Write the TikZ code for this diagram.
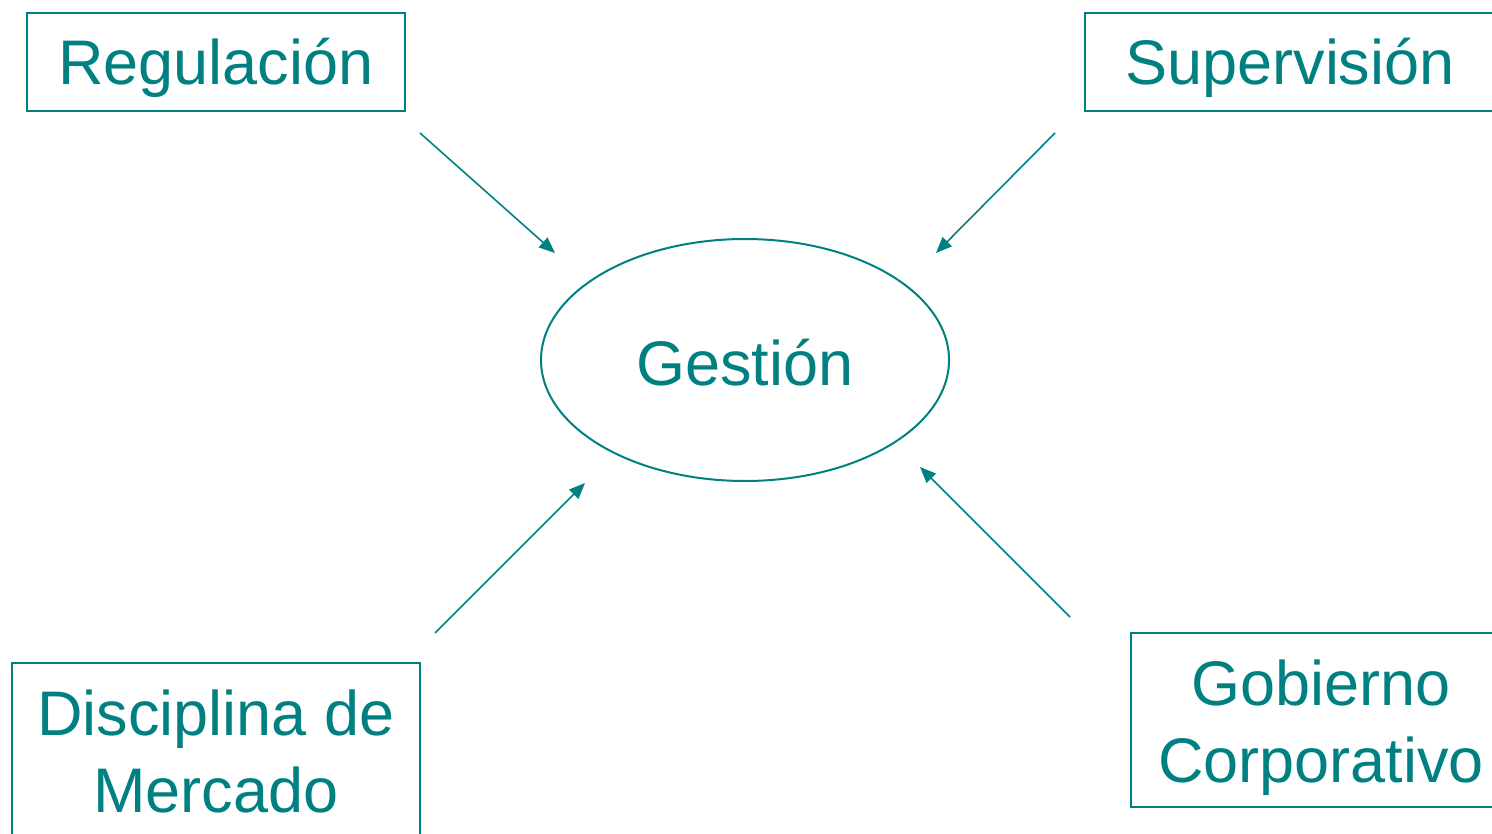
\documentclass[tikz,border=0pt]{standalone}
\usepackage{fontspec}
\setmainfont{Liberation Sans}
\usetikzlibrary{arrows.meta,shapes.geometric}
\definecolor{teal1}{HTML}{008080}
\tikzset{
  box/.style={draw=teal1, line width=1pt, rectangle, inner sep=0pt},
  lbl/.style={text=teal1, font=\fontsize{31.5}{38.5}\selectfont, inner sep=0pt, align=center, anchor=base},
  arr/.style={draw=teal1, line width=0.8pt, -{Triangle[length=8pt,width=6.5pt]}}
}
\begin{document}
\begin{tikzpicture}[x=0.5pt,y=-0.5pt]
\useasboundingbox (0,0) rectangle (1492,834);
% boxes
\node[box, minimum width=189pt, minimum height=49pt] (regbox) at (216,62) {};
\node[box, minimum width=205pt, minimum height=49pt] (supbox) at (1290,62) {};
\node[box, minimum width=204pt, minimum height=100pt] (disbox) at (216,763) {};
\node[box, minimum width=190pt, minimum height=87pt] (gobbox) at (1321,720) {};
\node[draw=teal1, line width=1pt, ellipse, minimum width=204pt, minimum height=121pt, inner sep=0pt] (ges) at (745,360) {};
% labels
\node[lbl] (reg) at (216,85) {Regulación};
\node[lbl] (sup) at (1290,85) {Supervisión};
\node[lbl] (gest) at (745,385) {Gestión};
\node[lbl] (dis) at (216,812) {Disciplina de\\Mercado};
\node[lbl] (gob) at (1321,782) {Gobierno\\Corporativo};
% arrow ends
\coordinate (a1) at (420,133); \coordinate (b1) at (555,253);
\coordinate (a2) at (1055,133); \coordinate (b2) at (936,253);
\coordinate (a3) at (435,633); \coordinate (b3) at (585,483);
\coordinate (a4) at (1070,617); \coordinate (b4) at (920,467);
\draw[arr] (a1) -- (b1);
\draw[arr] (a2) -- (b2);
\draw[arr] (a3) -- (b3);
\draw[arr] (a4) -- (b4);
\end{tikzpicture}
\end{document}
